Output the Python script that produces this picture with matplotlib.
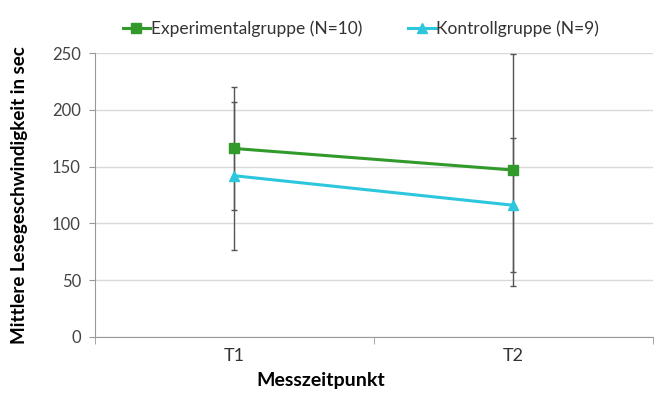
import numpy as np
import matplotlib.pyplot as plt

plt.rcParams["font.family"] = ["Lato", "DejaVu Sans"]

# Data
zeitpunkte = ["T1", "T2"]
exp_mean = [166, 147]
exp_err = [54, 102]
kon_mean = [142, 116]
kon_err = [65, 59]

fig = plt.figure(figsize=(6.54, 3.93), dpi=100)
ax = fig.add_axes([0.145, 0.1425, 0.853, 0.7225])

x = np.arange(1, len(zeitpunkte) + 1)

# Error bars (dark grey, drawn under the lines)
ax.errorbar(x, exp_mean, yerr=exp_err, fmt="none", ecolor="#555555",
            elinewidth=1, capsize=2.5, capthick=1, zorder=2)
ax.errorbar(x, kon_mean, yerr=kon_err, fmt="none", ecolor="#555555",
            elinewidth=1, capsize=2.5, capthick=1, zorder=2)

ax.plot(x, exp_mean, color="#329A2A", lw=2.2, marker="s", ms=7,
        label="Experimentalgruppe (N=10)", zorder=3)
ax.plot(x, kon_mean, color="#2DC7DD", lw=2.2, marker="^", ms=7,
        label="Kontrollgruppe (N=9)", zorder=3)

ax.set_xlim(0.5, 2.5)
ax.set_ylim(0, 250)
ax.set_yticks(np.arange(0, 251, 50))
ax.set_xticks(x)
ax.set_xticklabels(zeitpunkte)
ax.set_xticks([0.5, 1.5, 2.5], minor=True)
ax.tick_params(axis="x", which="major", length=0, labelsize=13,
               labelcolor="#333333", pad=8)
ax.tick_params(axis="x", which="minor", length=5, color="#999999")
ax.tick_params(axis="y", length=4, color="#999999", labelsize=12,
               labelcolor="#444444", pad=6)

ax.grid(axis="y", color="#D9D9D9", lw=1)
ax.set_axisbelow(True)
for s in ["top", "right"]:
    ax.spines[s].set_visible(False)
ax.spines["left"].set_color("#999999")
ax.spines["bottom"].set_color("#999999")

ax.set_ylabel("Mittlere Lesegeschwindigkeit in sec", fontsize=13.5,
              fontweight="bold")
ax.yaxis.set_label_coords(-0.12, 0.5)
ax.set_xlabel("Messzeitpunkt", fontsize=14, fontweight="bold")
ax.xaxis.set_label_coords(0.405, -0.125)

ax.legend(loc="lower center", bbox_to_anchor=(0.477, 1.0), ncol=2,
          frameon=False, fontsize=12.5, handlelength=1.6, handletextpad=0.05,
          columnspacing=2.6, labelcolor="#333333")

fig.savefig("out.png", dpi=100)
